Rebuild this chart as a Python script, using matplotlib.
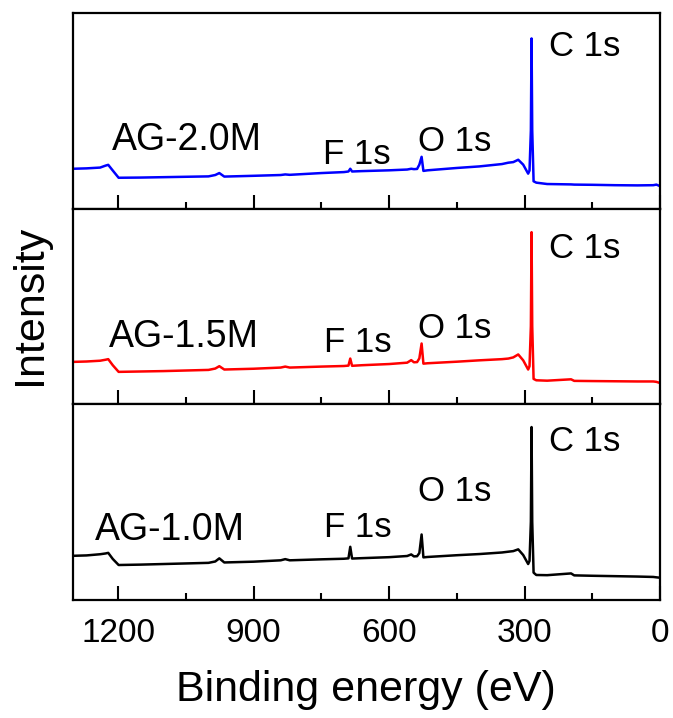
import matplotlib
matplotlib.use("Agg")
import matplotlib.pyplot as plt
from matplotlib.ticker import MultipleLocator

plt.rcParams['font.family'] = ['Liberation Sans', 'DejaVu Sans']

# Binding energy vertices (eV)
energy = [1300, 1270, 1240, 1228, 1222, 1212, 1199, 1150, 1100, 1050, 1000, 985, 976, 965,
          900, 840, 830, 820, 750, 700, 690, 686, 682, 660, 600, 560, 551, 545, 538, 533,
          528, 524, 515, 450, 400, 350, 336, 325, 314, 303, 292, 289, 286, 284.5, 283, 280,
          274, 250, 197, 190, 150, 100, 50, 15, 8, 0]

# Intensities (arbitrary, panel units 0-100)
ag20 = [20.4, 20.6, 21.0, 22.0, 22.4, 19.5, 15.8, 15.9, 16.1, 16.3, 16.5, 17.2, 18.2, 16.4,
        16.8, 17.2, 17.5, 17.3, 18.2, 18.7, 19.0, 20.4, 19.0, 19.2, 19.6, 20.0, 20.4, 20.2,
        20.3, 22.5, 26.5, 19.3, 19.6, 20.8, 21.6, 22.8, 23.5, 23.8, 25.0, 22.5, 17.9, 19.5,
        40.0, 87.0, 40.0, 14.0, 13.3, 12.6, 12.4, 12.3, 12.2, 12.0, 11.9, 12.0, 12.3, 11.5]
ag15 = [21.7, 21.9, 22.3, 22.8, 23.1, 20.0, 16.6, 16.8, 17.0, 17.3, 17.6, 18.3, 19.5, 17.8,
        18.2, 18.8, 19.3, 18.8, 19.3, 19.6, 19.8, 23.4, 19.7, 20.0, 20.6, 21.3, 22.6, 21.5,
        21.6, 23.5, 31.1, 20.8, 21.0, 21.8, 22.5, 23.1, 23.4, 24.0, 25.5, 22.5, 17.8, 19.5,
        40.0, 88.0, 40.0, 13.0, 12.3, 12.1, 12.8, 12.0, 11.9, 11.8, 11.7, 11.7, 11.5, 10.9]
ag10 = [22.6, 22.8, 23.4, 23.8, 24.1, 21.0, 17.9, 18.1, 18.4, 18.7, 19.0, 19.7, 21.3, 19.2,
        19.6, 20.3, 20.9, 20.3, 20.8, 21.1, 21.3, 27.2, 21.2, 21.4, 21.9, 22.5, 23.3, 22.3,
        22.4, 24.0, 33.5, 21.8, 22.0, 22.9, 23.5, 24.3, 24.7, 25.0, 25.9, 23.0, 18.4, 20.0,
        40.0, 88.4, 40.0, 14.0, 12.8, 12.7, 13.6, 12.6, 12.4, 12.2, 12.0, 11.8, 11.6, 11.4]

samples = ['AG-2.0M', 'AG-1.5M', 'AG-1.0M']
series = [ag20, ag15, ag10]
colors = ['#0000ff', '#ff0000', '#000000']

peak_names = ['F 1s', 'O 1s', 'C 1s']
# label anchors (energy, value) per panel: sample, F, O, C
sample_pos = [(1214, 30.1), (1220, 29.5), (1251, 30.5)]
f_pos = [(746, 23.0), (744, 26.5), (744, 32.0)]
o_pos = [(537, 29.5), (536, 33.8), (536, 50.5)]
c_pos = [(246, 78.0), (246, 75.0), (246, 76.0)]

xticks = [1200, 900, 600, 300, 0]

fig = plt.figure(figsize=(6.73, 7.18), dpi=100)
axes = fig.subplots(3, 1, sharex=True, gridspec_kw={'hspace': 0})
fig.subplots_adjust(left=0.1085, right=0.9807, bottom=0.1643, top=0.9819)

for i, ax in enumerate(axes):
    ax.plot(energy, series[i], color=colors[i], lw=1.8)
    ax.set_xlim(1300, 0)
    ax.set_ylim(0, 100)
    ax.set_yticks([])
    ax.xaxis.set_major_locator(MultipleLocator(300))
    ax.xaxis.set_minor_locator(MultipleLocator(150))
    ax.tick_params(axis='x', which='major', direction='in', length=10, width=1.5,
                   labelsize=24, pad=13)
    ax.tick_params(axis='x', which='minor', direction='in', length=5, width=1.5)
    for sp in ax.spines.values():
        sp.set_linewidth(1.6)
    ax.text(*sample_pos[i], samples[i], fontsize=27, ha='left', va='baseline')
    ax.text(*f_pos[i], peak_names[0], fontsize=25, ha='left', va='baseline')
    ax.text(*o_pos[i], peak_names[1], fontsize=25, ha='left', va='baseline')
    ax.text(*c_pos[i], peak_names[2], fontsize=25, ha='left', va='baseline')

axes[-1].set_xticks(xticks)
axes[-1].set_xticklabels([str(t) for t in xticks])

fig.text(366 / 673, 1 - 690 / 718, 'Binding energy (eV)', fontsize=31, ha='center', va='center')
fig.text(30 / 673, 1 - 305 / 718, 'Intensity', fontsize=31, ha='center', va='center', rotation=90)

fig.savefig('out.png', dpi=100)
